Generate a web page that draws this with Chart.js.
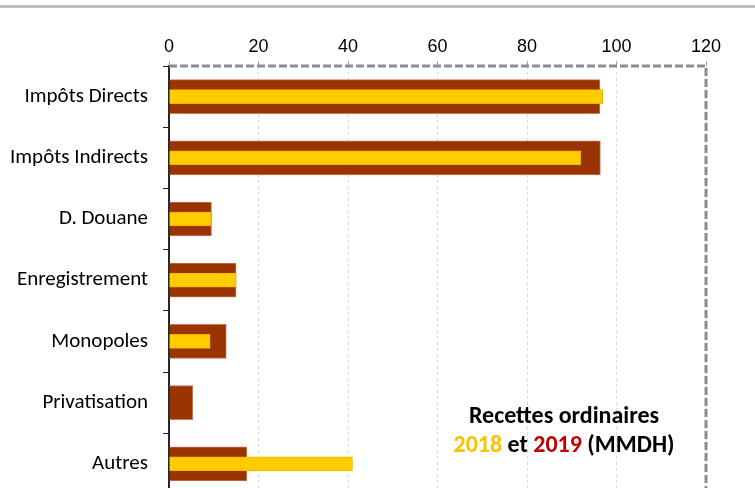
<!DOCTYPE html>
<html>
<head>
<meta charset="utf-8">
<script src="https://cdn.jsdelivr.net/npm/chart.js@4.4.1/dist/chart.umd.min.js"></script>
<style>
    html, body { margin: 0; padding: 0; background: #fff; overflow: hidden; }
    #wrap { position: relative; width: 755px; height: 488px; overflow: hidden; }
    #topline { position: absolute; left: 0; top: 5px; width: 755px; height: 3px; background: #bfbfbf; }
    #chart { position: absolute; left: 0; top: 0; }
    #note {
        position: absolute; left: 414px; top: 400px; width: 300px;
        text-align: center; font-family: Carlito, Lato, sans-serif;
        font-weight: bold; font-size: 24px; line-height: 29px; color: #000;
    }
    #note .y18 { color: #ffc000; }
    #note .y19 { color: #c00000; }
</style>
</head>
<body>
<div id="wrap">
    <div id="topline"></div>
    <canvas id="chart" width="755" height="522"></canvas>
    <div id="note">Recettes ordinaires<br><span class="y18">2018</span> et <span class="y19">2019</span> (MMDH)</div>
</div>
<script>
const categories = ['Impôts Directs', 'Impôts Indirects', 'D. Douane', 'Enregistrement', 'Monopoles', 'Privatisation', 'Autres'];
const values2018 = [96.9, 92.0, 9.4, 15.0, 9.2, 0, 41.0];
const values2019 = [96.3, 96.4, 9.5, 15.0, 12.8, 5.3, 17.4];
const xTicks = [0, 20, 40, 60, 80, 100, 120];

// bordure pointillée en haut et à droite de la zone de tracé
const frameBorder = {
    id: 'frameBorder',
    afterDraw(chart) {
        const { ctx, chartArea } = chart;
        ctx.save();
        ctx.strokeStyle = '#8c8c8c';
        ctx.lineWidth = 3;
        ctx.setLineDash([8, 3]);
        ctx.beginPath();
        ctx.moveTo(chartArea.left, chartArea.top);
        ctx.lineTo(chartArea.right, chartArea.top);
        ctx.lineTo(chartArea.right, chartArea.bottom + 10);
        ctx.stroke();
        ctx.restore();
    }
};

new Chart(document.getElementById('chart'), {
    type: 'bar',
    data: {
        labels: categories,
        datasets: [
            {
                label: '2018',
                data: values2018,
                backgroundColor: '#ffcc00',
                borderColor: '#f0b000',
                borderWidth: 1,
                barThickness: 14,
                grouped: false,
                order: 0
            },
            {
                label: '2019',
                data: values2019,
                backgroundColor: '#993300',
                borderColor: '#c87a5a',
                borderWidth: 1,
                barThickness: 34,
                grouped: false,
                order: 1
            }
        ]
    },
    options: {
        indexAxis: 'y',
        responsive: false,
        animation: false,
        layout: { padding: { left: 0, top: 0, right: 49, bottom: 8 } },
        plugins: {
            legend: { display: false },
            tooltip: { enabled: false }
        },
        scales: {
            x: {
                position: 'top',
                min: 0,
                max: 120,
                afterBuildTicks: scale => {
                    scale.ticks = xTicks.map(v => ({ value: v }));
                },
                afterFit: scale => { scale.height = 66; },
                ticks: {
                    color: '#000',
                    padding: 3,
                    font: { family: '"Liberation Sans Narrow", "Arial Narrow", Arial, sans-serif', size: 18 }
                },
                grid: {
                    color: '#d9d9d9',
                    tickColor: '#a6a6a6',
                    tickLength: 5,
                    lineWidth: 1
                },
                border: { display: false, dash: [3, 3] }
            },
            y: {
                afterFit: scale => { scale.width = 169; },
                ticks: {
                    color: '#000',
                    padding: 15,
                    font: { family: 'Carlito, Lato, sans-serif', size: 21 }
                },
                grid: {
                    drawOnChartArea: false,
                    tickLength: 6,
                    tickColor: '#222'
                },
                border: { display: true, color: '#262626', width: 2 }
            }
        }
    },
    plugins: [frameBorder]
});
</script>
</body>
</html>
